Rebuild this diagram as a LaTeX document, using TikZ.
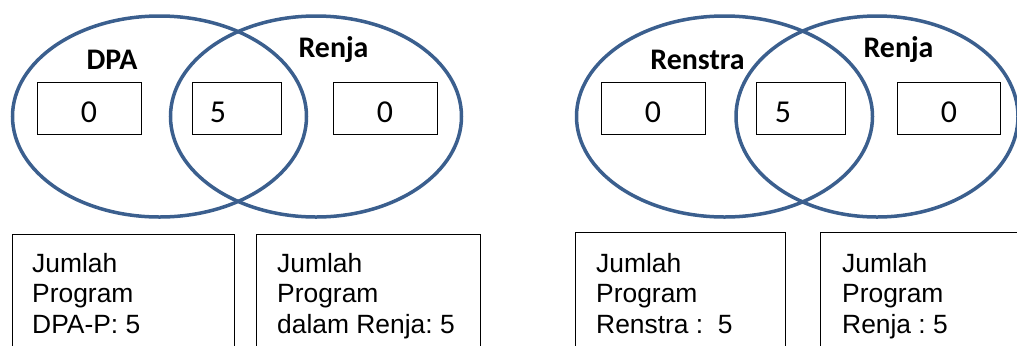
\documentclass[tikz,border=0pt]{standalone}
\usepackage{fontspec}
\setmainfont{Liberation Sans}
\newfontfamily\calfont{Carlito}
\usetikzlibrary{shapes.geometric}
\definecolor{vennblue}{HTML}{3B5F8E}
\frenchspacing
\tikzset{
  venn/.style={ellipse, draw=vennblue, line width=3.5bp, inner sep=0pt, minimum height=201bp},
  numbox/.style={draw=black, line width=0.8bp, inner sep=0pt, minimum height=52bp},
  numtxt/.style={anchor=base, inner sep=0pt, font=\calfont\fontsize{32}{34}\selectfont},
  setlabel/.style={anchor=base, inner sep=0pt, font=\calfont\bfseries\fontsize{30}{32}\selectfont},
  infobox/.style={draw=black, line width=0.8bp, inner sep=0pt, anchor=north west, minimum height=150bp},
  infotxt/.style={anchor=north west, inner sep=0pt, align=left, font=\frenchspacing\fontsize{26.5}{30.5}\selectfont}
}
\begin{document}
\begin{tikzpicture}[x=1bp, y=-1bp]
\path[use as bounding box] (0,0) rectangle (1017,345);
\clip (0,0) rectangle (1017,345);
% left Venn
\node[venn, minimum width=294bp] (dpa) at (159.5,116.5) {};
\node[venn, minimum width=291bp] (renjaA) at (316,116.5) {};
\node[setlabel] (ldpa) at (112,69) {DPA};
\node[setlabel] (lrenjaA) at (333.5,57) {Renja};
\node[numbox, minimum width=104bp] (b1) at (89,108) {};
\node[numbox, minimum width=89bp] (b2) at (236.5,108) {};
\node[numbox, minimum width=104bp] (b3) at (385,108) {};
\node[numtxt] (n1) at (89,122) {0};
\node[numtxt] (n2) at (218,122) {5};
\node[numtxt] (n3) at (385,122) {0};
% right Venn
\node[venn, minimum width=296bp] (renstra) at (724.5,116.5) {};
\node[venn, minimum width=282bp] (renjaB) at (877,116.5) {};
\node[setlabel] (lrenstra) at (697.5,69) {Renstra};
\node[setlabel] (lrenjaB) at (898.5,57) {Renja};
\node[numbox, minimum width=104bp] (b4) at (653,108) {};
\node[numbox, minimum width=89bp] (b5) at (800.5,108) {};
\node[numbox, minimum width=103bp] (b6) at (948.5,108) {};
\node[numtxt] (n4) at (653,122) {0};
\node[numtxt] (n5) at (783,122) {5};
\node[numtxt] (n6) at (949,122) {0};
% info boxes
\node[infobox, minimum width=222bp] (i1) at (12,234) {};
\node[infobox, minimum width=224bp] (i2) at (256,234) {};
\node[infobox, minimum width=210bp] (i3) at (575,232) {};
\node[infobox, minimum width=230bp] (i4) at (820,232) {};
\node[infotxt] (t1) at (32,253) {Jumlah\\Program\\DPA-P: 5};
\node[infotxt] (t2) at (277,253) {Jumlah\\Program\\dalam Renja: 5};
\node[infotxt] (t3) at (596,253) {Jumlah\\Program\\Renstra :\ \ 5};
\node[infotxt] (t4) at (842,253) {Jumlah\\Program\\Renja : 5};
\end{tikzpicture}
\end{document}
